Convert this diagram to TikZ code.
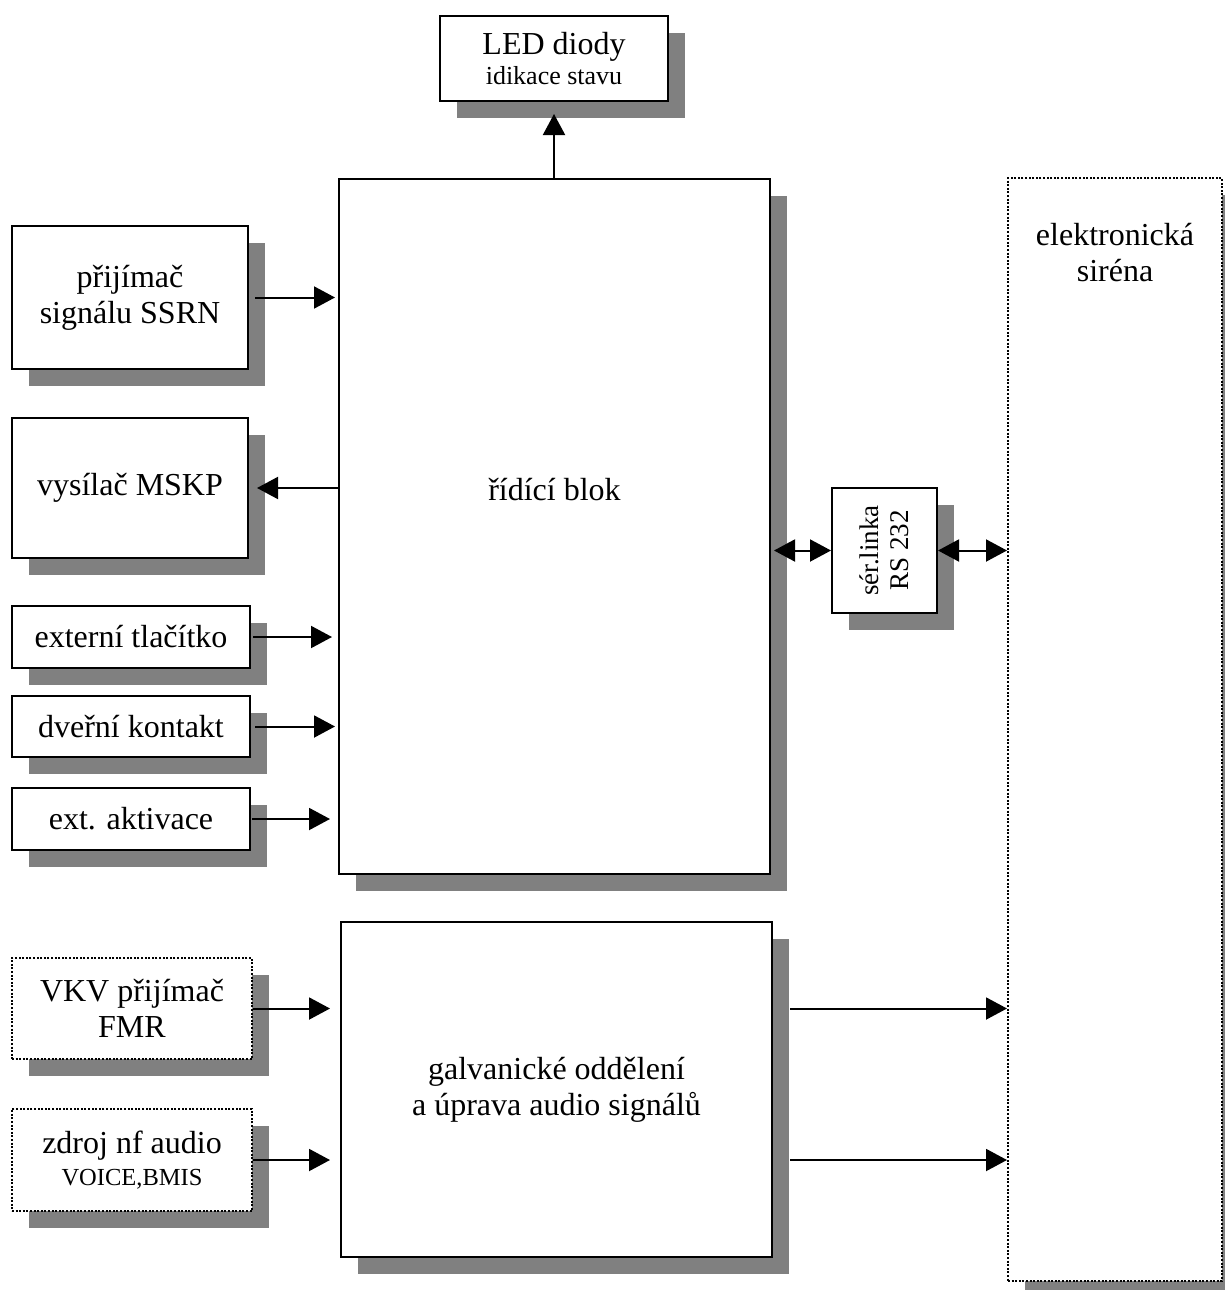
\documentclass[tikz,border=0pt]{standalone}
\usepackage{fontspec}
\setmainfont{Liberation Serif}
\usetikzlibrary{arrows.meta,shadows}
\newcommand{\velke}{\fontsize{32}{36}\selectfont}
\newcommand{\male}{\fontsize{26}{28}\selectfont}
\newcommand{\mensi}{\fontsize{24.5}{28}\selectfont}
\newcommand{\stredni}{\fontsize{27}{30}\selectfont}

\begin{document}
\begin{tikzpicture}[x=1pt, y=-1pt, line width=2pt, font=\velke,
	blok/.style={draw, fill=white, rectangle, anchor=north west, inner sep=0pt, align=center,
		drop shadow={shadow xshift=17pt, shadow yshift=-17pt, fill=black!50, opacity=1}},
	teckovany/.style={blok, dash pattern=on 2pt off 1.6pt},
	sipka/.style={-{Triangle[length=21pt,width=22pt]}},
	oboustr/.style={{Triangle[length=21pt,width=22pt]}-{Triangle[length=21pt,width=22pt]}}]
	\useasboundingbox (0,0) rectangle (1224,1290);
	\node[blok, minimum width=228pt, minimum height=85pt] (led) at (439,15) {LED diody\\[-6pt]\male idikace stavu};
	\node[blok, minimum width=431pt, minimum height=695pt, label={[yshift=37pt]center:řídící blok}] (ridici) at (338,178) {};
	\node[blok, minimum width=236pt, minimum height=143pt] (ssrn) at (11,225) {přijímač\\signálu SSRN};
	\node[blok, minimum width=236pt, minimum height=140pt] (mskp) at (11,417) {vysílač MSKP};
	\node[blok, minimum width=238pt, minimum height=62pt] (tlac) at (11,605) {externí tlačítko};
	\node[blok, minimum width=238pt, minimum height=61pt] (dvere) at (11,695) {dveřní kontakt};
	\node[blok, minimum width=238pt, minimum height=62pt] (aktiv) at (11,787) {ext. aktivace};
	\node[teckovany, minimum width=240pt, minimum height=101pt] (vkv) at (11,957) {VKV přijímač\\FMR};
	\node[teckovany, minimum width=240pt, minimum height=102pt] (nf) at (11,1108) {zdroj nf audio\\[-4pt]\mensi VOICE,BMIS};
	\node[blok, minimum width=431pt, minimum height=335pt] (galv) at (340,921) {galvanické oddělení\\a úprava audio signálů};
	\node[blok, minimum width=105pt, minimum height=125pt, label={[rotate=90, font=\stredni, align=center]center:sér.linka\\RS 232}] (rs) at (831,487) {};
	\node[teckovany, minimum width=214pt, minimum height=1103pt, label={[anchor=north, yshift=-42pt, align=center]north:elektronická\\siréna}] (sirena) at (1007,177) {};
	\draw[sipka, shorten >=12pt] (led.south |- ridici.north) -- (led.south);
	\draw[sipka, shorten <=6pt, shorten >=3pt] (ssrn) -- (ssrn -| ridici.west);
	\draw[sipka, shorten >=8pt] (ridici.west |- mskp) -- (mskp);
	\draw[sipka, shorten <=2pt, shorten >=6pt] (tlac) -- (tlac -| ridici.west);
	\draw[sipka, shorten <=4pt, shorten >=3pt] (dvere) -- (dvere -| ridici.west);
	\draw[sipka, shorten <=1pt, shorten >=8pt] (aktiv) -- (aktiv -| ridici.west);
	\draw[sipka, shorten >=10pt] (vkv) -- (vkv -| galv.west);
	\draw[sipka, shorten >=10pt] (nf) -- (nf -| galv.west);
	\draw[sipka, shorten <=17pt] (galv.east |- vkv) -- (sirena.west |- vkv);
	\draw[sipka, shorten <=17pt] (galv.east |- nf) -- (sirena.west |- nf);
	\draw[oboustr, shorten <=3pt] (ridici.east |- rs) -- (rs);
	\draw[oboustr] (rs) -- (sirena.west |- rs);
\end{tikzpicture}
\end{document}
